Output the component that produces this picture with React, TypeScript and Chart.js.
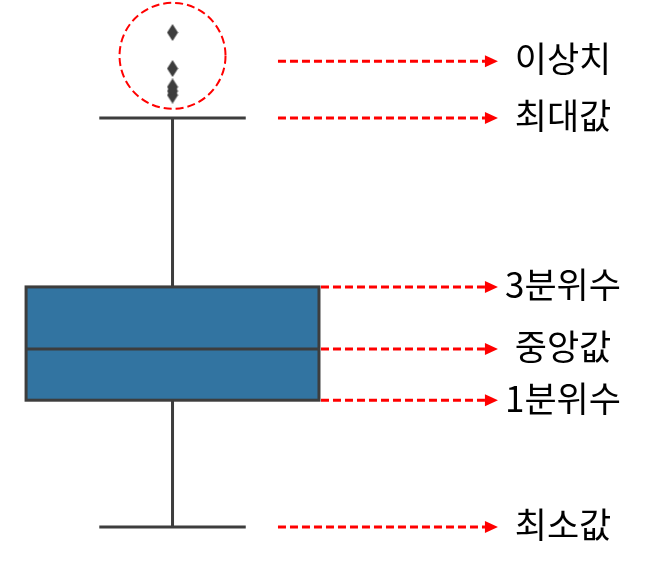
import React, { useEffect, useRef } from "react";
import { Chart, registerables } from "chart.js";

Chart.register(...registerables);

// ---- data ----
const categories = ["분포"];
const boxMin = [10];
const boxQ1 = [41];
const boxMedian = [53.5];
const boxQ3 = [68.7];
const boxMax = [110];
const outliers = [115.6, 116.6, 117.6, 122.1, 130.9];

const annotationLabels = ["이상치", "최대값", "3분위수", "중앙값", "1분위수", "최소값"];
const annotationValues = [123.9, boxMax[0], boxQ3[0], boxMedian[0], boxQ1[0], boxMin[0]];
const annotationFromBox = [false, false, true, true, true, false];
const outlierCircleCenter = 125.2;

// ---- styles ----
const BOX_FILL = "#3274a1";
const EDGE = "#3d3d3d";
const RED = "#ff0000";
const BOX_HALF = 0.5; // x units
const CAP_HALF = 0.25;
const ARROW_START_X = 0.36;
const ARROW_TIP_X = 1.111;
const LABEL_X = 1.333;

function makeDiamond(): HTMLCanvasElement {
  const c = document.createElement("canvas");
  c.width = 12;
  c.height = 17;
  const g = c.getContext("2d")!;
  g.fillStyle = EDGE;
  g.beginPath();
  g.moveTo(6, 0);
  g.lineTo(11.5, 8.5);
  g.lineTo(6, 17);
  g.lineTo(0.5, 8.5);
  g.closePath();
  g.fill();
  return c;
}

const boxPlugin = {
  id: "boxPlugin",
  beforeDatasetsDraw(chart: any) {
    const ctx = chart.ctx;
    const xs = chart.scales.x;
    const ys = chart.scales.y;
    categories.forEach((_, i) => {
      const cx = xs.getPixelForValue(i);
      const left = xs.getPixelForValue(i - BOX_HALF);
      const right = xs.getPixelForValue(i + BOX_HALF);
      const capL = xs.getPixelForValue(i - CAP_HALF);
      const capR = xs.getPixelForValue(i + CAP_HALF);
      const yMin = ys.getPixelForValue(boxMin[i]);
      const yQ1 = ys.getPixelForValue(boxQ1[i]);
      const yMed = ys.getPixelForValue(boxMedian[i]);
      const yQ3 = ys.getPixelForValue(boxQ3[i]);
      const yMax = ys.getPixelForValue(boxMax[i]);
      ctx.save();
      ctx.strokeStyle = EDGE;
      ctx.lineWidth = 3;
      ctx.lineCap = "butt";
      // whiskers
      ctx.beginPath();
      ctx.moveTo(cx, yQ3);
      ctx.lineTo(cx, yMax);
      ctx.moveTo(capL, yMax);
      ctx.lineTo(capR, yMax);
      ctx.moveTo(cx, yQ1);
      ctx.lineTo(cx, yMin);
      ctx.moveTo(capL, yMin);
      ctx.lineTo(capR, yMin);
      ctx.stroke();
      // box
      ctx.fillStyle = BOX_FILL;
      ctx.fillRect(left, yQ3, right - left, yQ1 - yQ3);
      ctx.strokeRect(left, yQ3, right - left, yQ1 - yQ3);
      // median
      ctx.beginPath();
      ctx.moveTo(left, yMed);
      ctx.lineTo(right, yMed);
      ctx.stroke();
      ctx.restore();
    });
  },
  afterDraw(chart: any) {
    const ctx = chart.ctx;
    const xs = chart.scales.x;
    const ys = chart.scales.y;
    ctx.save();
    // dashed circle around outliers
    ctx.strokeStyle = RED;
    ctx.lineWidth = 2;
    ctx.setLineDash([8, 4]);
    ctx.beginPath();
    ctx.arc(xs.getPixelForValue(0), ys.getPixelForValue(outlierCircleCenter), 53, 0, Math.PI * 2);
    ctx.stroke();

    const boxRight = xs.getPixelForValue(BOX_HALF) + 2;
    const tip = xs.getPixelForValue(ARROW_TIP_X);
    const head = 13;
    annotationLabels.forEach((label, i) => {
      const y = ys.getPixelForValue(annotationValues[i]);
      const start = annotationFromBox[i] ? boxRight : xs.getPixelForValue(ARROW_START_X);
      ctx.strokeStyle = RED;
      ctx.lineWidth = 3;
      ctx.setLineDash([8, 4]);
      ctx.beginPath();
      ctx.moveTo(start, y);
      ctx.lineTo(tip - head, y);
      ctx.stroke();
      ctx.setLineDash([]);
      ctx.fillStyle = RED;
      ctx.beginPath();
      ctx.moveTo(tip, y);
      ctx.lineTo(tip - head, y - 6);
      ctx.lineTo(tip - head, y + 6);
      ctx.closePath();
      ctx.fill();
      ctx.fillStyle = "#000000";
      ctx.font = '35px "Noto Sans CJK KR"';
      ctx.textAlign = "center";
      ctx.textBaseline = "middle";
      ctx.fillText(label, xs.getPixelForValue(LABEL_X), y - 2);
    });
    ctx.restore();
  },
};

export default function App() {
  const ref = useRef<HTMLCanvasElement | null>(null);
  useEffect(() => {
    if (!ref.current) return;
    const diamond = makeDiamond();
    const chart = new Chart(ref.current, {
      type: "scatter",
      data: {
        datasets: [
          {
            label: "이상치",
            data: outliers.map((v) => ({ x: 0, y: v })),
            pointStyle: diamond as any,
            backgroundColor: EDGE,
            borderColor: EDGE,
          },
        ],
      },
      options: {
        animation: false,
        responsive: false,
        layout: { padding: 0, autoPadding: false },
        plugins: { legend: { display: false }, tooltip: { enabled: false } },
        scales: {
          x: { type: "linear", min: -0.589, max: 1.613, display: false },
          y: { type: "linear", min: 0.22, max: 138.85, display: false },
        },
      },
      plugins: [boxPlugin],
    });
    return () => chart.destroy();
  }, []);
  return (
    <canvas
      ref={ref}
      width={645}
      height={567}
      style={{ position: "absolute", left: 0, top: 0, display: "block", background: "#ffffff" }}
    />
  );
}
